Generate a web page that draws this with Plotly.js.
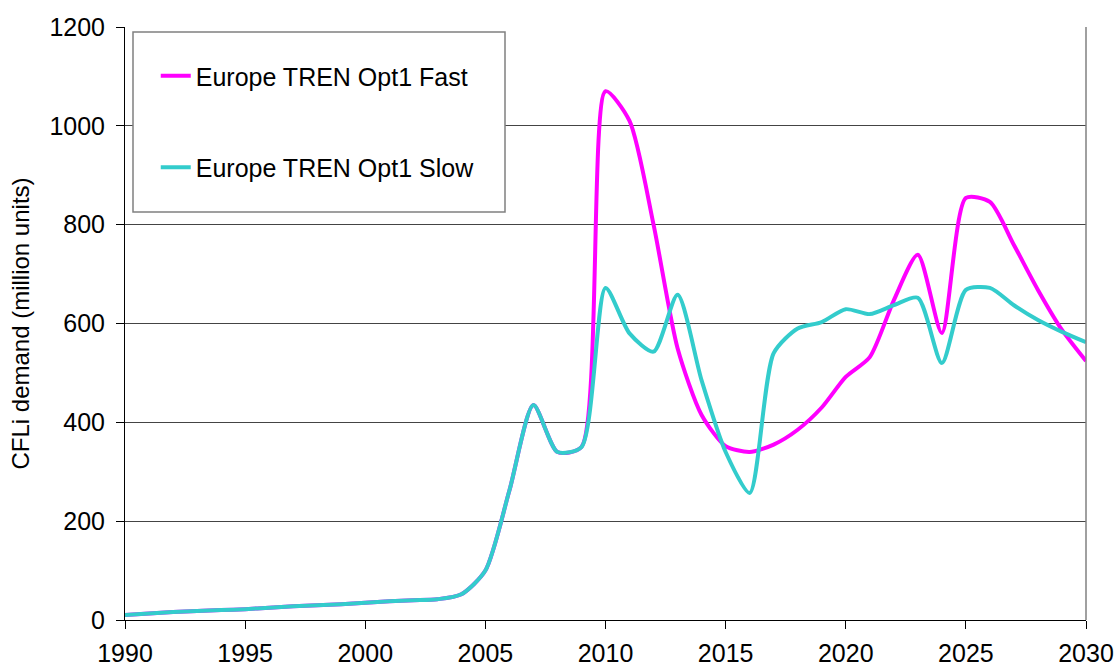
<!DOCTYPE html>
<html>
<head>
<meta charset="utf-8">
<script src="https://cdn.plot.ly/plotly-3.0.1.min.js"></script>
<style>html,body{margin:0;padding:0;background:#fff;}#chart{width:1118px;height:666px;}</style>
</head>
<body>
<div id="chart"></div>
<script>
const years = [1990,1991,1992,1993,1994,1995,1996,1997,1998,1999,2000,2001,2002,2003,2004,2005,2006,2007,2008,2009,2010,2011,2012,2013,2014,2015,2016,2017,2018,2019,2020,2021,2022,2023,2024,2025,2026,2027,2028,2029,2030];
const fastValues = [10,13,16,18,20,22,25,28,30,32,35,38,40,42,52,100,262,435,340,350,1070,1010,800,550,415,352,340,355,385,430,492,532,647,739,581,854,846,759,668,587,524];
const slowValues = [10,13,16,18,20,22,25,28,30,32,35,38,40,42,52,100,262,435,340,350,672,580,543,658,485,340,257,540,590,603,629,619,637,652,520,668,672,637,607,583,562];
const seriesNames = ['Europe TREN Opt1 Fast','Europe TREN Opt1 Slow'];
const yTitle = 'CFLi demand (million units)';

const font = 'Arial, "Liberation Sans", sans-serif';
const fs = 25;
const traces = [
  {x: years, y: fastValues, name: seriesNames[0], type: 'scatter', mode: 'lines', legendgroup: 'a',
   line: {color: '#FF00FF', width: 4, shape: 'spline', smoothing: 0.7}},
  {x: years, y: slowValues, name: seriesNames[1], type: 'scatter', mode: 'lines', legendgroup: 'b',
   line: {color: '#33CCCC', width: 4, shape: 'spline', smoothing: 0.7}}
];
const layout = {
  width: 1118, height: 666,
  margin: {l: 125, r: 32, t: 27, b: 46},
  paper_bgcolor: '#fff', plot_bgcolor: '#fff',
  font: {family: font, size: fs, color: '#000'},
  showlegend: true,
  legend: {x: 0.032, y: 0.956, xanchor: 'left', yanchor: 'top', bgcolor: 'rgba(0,0,0,0)',
           borderwidth: 0, font: {family: font, size: fs, color: '#000'}, tracegroupgap: 56, traceorder: 'grouped'},
  xaxis: {range: [1990, 2030], dtick: 5, tick0: 1990, showgrid: false, zeroline: false,
          showline: true, linecolor: '#000', linewidth: 1, ticks: 'outside', ticklen: 8, tickcolor: '#000',
          ticklabelstandoff: 3,
          tickfont: {family: font, size: fs, color: '#000'}, fixedrange: true},
  yaxis: {range: [0, 1200], dtick: 200, tick0: 0, showgrid: true, gridcolor: '#444', gridwidth: 1, zeroline: false,
          showline: true, linecolor: '#000', linewidth: 1, ticks: 'outside', ticklen: 8, tickcolor: '#000',
          ticklabelstandoff: 6,
          tickfont: {family: font, size: fs, color: '#000'},
          title: {text: yTitle, font: {family: font, size: 24, color: '#000'}, standoff: 12}, fixedrange: true},
  shapes: [
    {type: 'line', xref: 'paper', yref: 'paper', x0: 1, x1: 1, y0: 0, y1: 1, line: {color: '#808080', width: 1.5}},
    {type: 'rect', xref: 'paper', yref: 'paper', x0: (133-125)/961, x1: (505-125)/961, y0: (620-212)/593, y1: (620-32)/593,
     line: {color: '#808080', width: 1.5}, fillcolor: '#fff', layer: 'above'}
  ]
};
Plotly.newPlot('chart', traces, layout, {staticPlot: true});
</script>
</body>
</html>
